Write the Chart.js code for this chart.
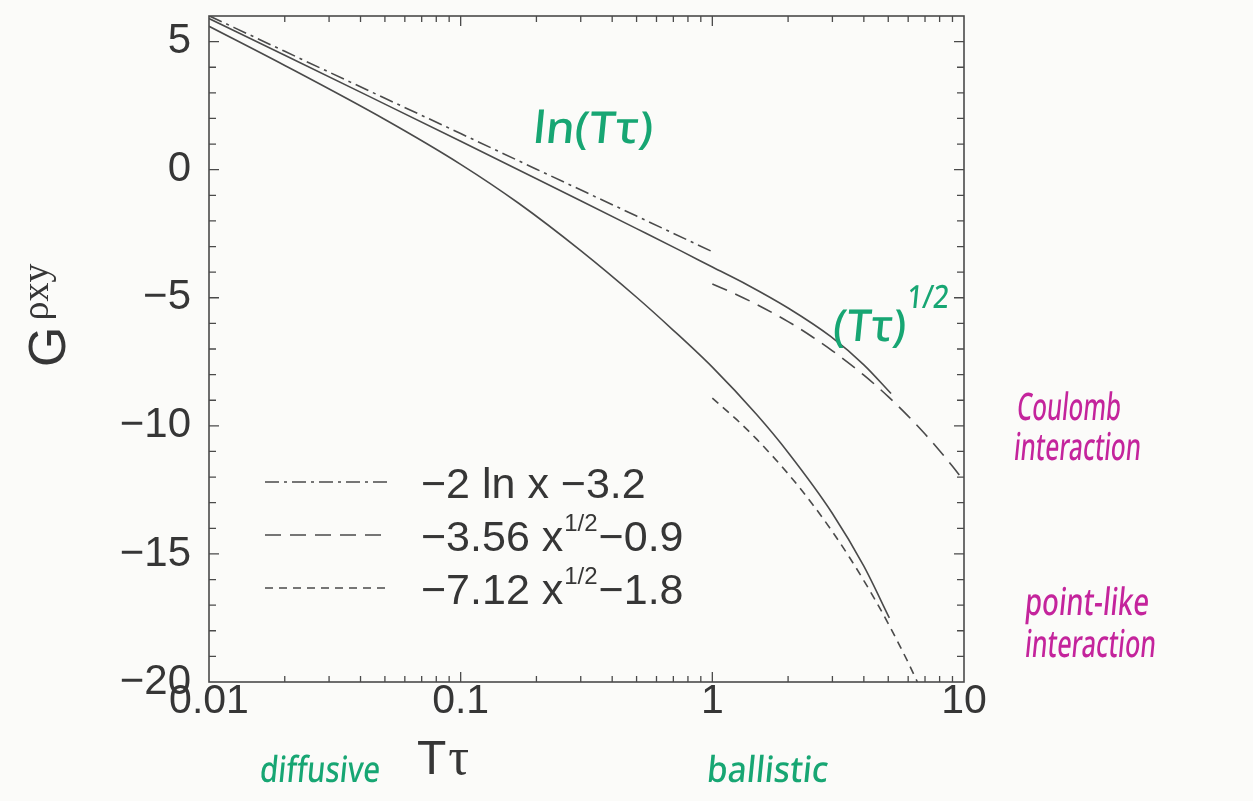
<!DOCTYPE html>
<html>
<head>
<meta charset="utf-8">
<script src="https://cdn.jsdelivr.net/npm/chart.js@4.4.1/dist/chart.umd.min.js"></script>
<style>
  html, body { margin: 0; padding: 0; background: #fbfbf9; }
  #wrap { width: 1253px; height: 801px; }
</style>
</head>
<body>
<div id="wrap"><canvas id="c" width="1253" height="801"></canvas></div>
<script>
// Axis ticks
const xTickValues = [0.01, 0.1, 1, 10];
const yTickValues = [-20, -15, -10, -5, 0, 5];

// Full crossover curve, Coulomb interaction
const coulombX = [0.01, 0.02, 0.05, 0.1, 0.2, 0.3, 0.5, 0.75, 1.0, 1.38, 2.0, 2.96, 4.0, 5.13];
const coulombY = [5.9, 4.47, 2.56, 1.11, -0.35, -1.21, -2.3, -3.17, -3.8, -4.5, -5.4, -6.52, -7.62, -8.74];

// Full crossover curve, point-like interaction
const pointX = [0.01, 0.02, 0.05, 0.1, 0.17, 0.3, 0.5, 0.7, 1.0, 1.5, 2.0, 3.0, 4.0, 5.05];
const pointY = [5.6, 4.07, 1.96, 0.21, -1.31, -3.16, -4.98, -6.27, -7.71, -9.56, -11.04, -13.42, -15.48, -17.5];

// Diffusive asymptote  -2 ln x - 3.2
const lnX = [0.01, 0.02, 0.05, 0.1, 0.2, 0.5, 1.0];
const lnY = [6.01, 4.62, 2.79, 1.41, 0.02, -1.81, -3.2];

// Ballistic asymptote, Coulomb  -3.56 x^1/2 - 0.9
const sqrtCX = [1.0, 1.25, 1.5, 2.0, 2.5, 3.0, 4.0, 5.0, 6.0, 7.0, 8.0, 9.0, 10.0];
const sqrtCY = [-4.46, -4.88, -5.26, -5.93, -6.53, -7.07, -8.02, -8.86, -9.62, -10.32, -10.97, -11.58, -12.16];

// Ballistic asymptote, point-like  -7.12 x^1/2 - 1.8
const sqrtPX = [1.0, 1.25, 1.5, 2.0, 2.5, 3.0, 3.5, 4.0, 4.5, 5.0, 5.5, 6.0, 6.53];
const sqrtPY = [-8.92, -9.76, -10.52, -11.87, -13.06, -14.13, -15.12, -16.04, -16.9, -17.72, -18.5, -19.24, -20.0];

const pairs = (xs, ys) => xs.map((x, i) => ({ x: x, y: ys[i] }));

const INK = '#4a4a4a';
const TEXT = '#363636';
const GREEN = '#17a673';
const MAGENTA = '#c4249c';
const SANS = '"Liberation Sans", Arial, sans-serif';
const SERIF = '"Liberation Serif", "Times New Roman", serif';

const legendEntries = [
  { dash: [14, 5, 3, 5], base: '\u22122 ln x \u22123.2', sup: '', tail: '' },
  { dash: [16, 9],       base: '\u22123.56 x', sup: '1/2', tail: '\u22120.9' },
  { dash: [8, 6],        base: '\u22127.12 x', sup: '1/2', tail: '\u22121.8' }
];

const paper = {
  id: 'paper',
  beforeDraw(chart) {
    const c = chart.ctx;
    c.save();
    c.fillStyle = '#fbfbf9';
    c.fillRect(0, 0, chart.width, chart.height);
    c.restore();
  }
};

// Frame with inward ticks on all four sides
const frame = {
  id: 'frame',
  afterDatasetsDraw(chart) {
    const c = chart.ctx;
    const a = chart.chartArea;
    const xs = chart.scales.x, ys = chart.scales.y;
    c.save();
    c.strokeStyle = INK;
    c.lineWidth = 1.6;
    c.strokeRect(a.left, a.top, a.right - a.left, a.bottom - a.top);
    c.lineWidth = 1.3;
    c.beginPath();
    for (let d = -2; d < 1; d++) {
      for (let m = 1; m <= 10; m++) {
        const v = m * Math.pow(10, d);
        if (v <= 0.01 || v >= 10) continue;
        const px = xs.getPixelForValue(v);
        const len = (m === 1 || m === 10) ? 10 : 6;
        c.moveTo(px, a.bottom); c.lineTo(px, a.bottom - len);
        c.moveTo(px, a.top); c.lineTo(px, a.top + len);
      }
    }
    for (let v = -19; v <= 5; v++) {
      const py = ys.getPixelForValue(v);
      const len = (v % 5 === 0) ? 10 : 7;
      c.moveTo(a.left, py); c.lineTo(a.left + len, py);
      c.moveTo(a.right, py); c.lineTo(a.right - len, py);
    }
    c.stroke();
    c.restore();
  }
};

// Legend drawn inside the plot
const innerLegend = {
  id: 'innerLegend',
  afterDatasetsDraw(chart) {
    const c = chart.ctx;
    const rows = [482, 535, 588];
    c.save();
    legendEntries.forEach((e, i) => {
      const y = rows[i];
      c.strokeStyle = INK;
      c.lineWidth = 1.6;
      c.setLineDash(e.dash);
      c.beginPath();
      c.moveTo(265, y); c.lineTo(390, y);
      c.stroke();
      c.setLineDash([]);
      c.fillStyle = TEXT;
      c.textBaseline = 'alphabetic';
      c.font = '43px ' + SANS;
      let x = 421;
      const base = y + 16;
      c.fillText(e.base, x, base);
      x += c.measureText(e.base).width;
      if (e.sup) {
        c.font = '24px ' + SANS;
        c.fillText(e.sup, x + 1, base - 20);
        x += c.measureText(e.sup).width + 2;
        c.font = '43px ' + SANS;
        c.fillText(e.tail, x, base);
      }
    });
    c.restore();
  }
};

// Axis titles and hand annotations
const notes = {
  id: 'notes',
  afterDraw(chart) {
    const c = chart.ctx;
    c.save();
    c.textBaseline = 'alphabetic';
    // y title  G^{rho xy}
    c.save();
    c.translate(65, 367);
    c.rotate(-Math.PI / 2);
    c.fillStyle = TEXT;
    c.font = '52px ' + SANS;
    c.fillText('G', 0, 0);
    const gw = c.measureText('G').width;
    c.font = '38px ' + SERIF;
    c.fillText('\u03C1xy', gw + 6, -17);
    c.restore();
    // x title
    c.fillStyle = TEXT;
    c.font = '48px ' + SANS;
    c.fillText('T', 417, 774);
    const tw = c.measureText('T').width;
    c.font = '52px ' + SERIF;
    c.fillText('\u03C4', 417 + tw + 2, 774);

    // handwritten notes, each squeezed to its written width
    const hand = (text, x, base, width, size, color) => {
      c.save();
      c.fillStyle = color;
      c.font = '500 ' + size + 'px "Noto Sans", "DejaVu Sans", sans-serif';
      const w = c.measureText(text).width;
      c.translate(x, base);
      c.transform(width / w, 0, -0.1, 1, 0, 0);
      c.fillText(text, 0, 0);
      c.restore();
    };
    hand('ln(T\u03C4)', 532, 143, 120, 44, GREEN);
    hand('(T\u03C4)', 832, 341, 73, 44, GREEN);
    hand('1/2', 906, 308, 42, 32, GREEN);
    hand('diffusive', 259, 782, 120, 36, GREEN);
    hand('ballistic', 706, 782, 121, 36, GREEN);

    hand('Coulomb', 1016, 420, 104, 38, MAGENTA);
    hand('interaction', 1013, 460, 127, 38, MAGENTA);
    hand('point-like', 1024, 615, 124, 38, MAGENTA);
    hand('interaction', 1024, 657, 131, 38, MAGENTA);
    c.restore();
  }
};

const lineDs = (label, data, dash) => ({
  label: label,
  data: data,
  borderColor: INK,
  borderWidth: 1.6,
  borderDash: dash,
  pointRadius: 0,
  fill: false,
  cubicInterpolationMode: 'monotone'
});

new Chart(document.getElementById('c'), {
  type: 'line',
  data: {
    datasets: [
      lineDs('Coulomb interaction', pairs(coulombX, coulombY), []),
      lineDs('point-like interaction', pairs(pointX, pointY), []),
      lineDs('\u22122 ln x \u22123.2', pairs(lnX, lnY), legendEntries[0].dash),
      lineDs('\u22123.56 x^1/2 \u22120.9', pairs(sqrtCX, sqrtCY), legendEntries[1].dash),
      lineDs('\u22127.12 x^1/2 \u22121.8', pairs(sqrtPX, sqrtPY), legendEntries[2].dash)
    ]
  },
  options: {
    responsive: false,
    animation: false,
    devicePixelRatio: 1,
    layout: { padding: { left: 0, top: 16, right: 289, bottom: 0 } },
    plugins: { legend: { display: false }, tooltip: { enabled: false } },
    scales: {
      x: {
        type: 'logarithmic',
        min: 0.01, max: 10,
        grid: { display: false, drawTicks: false },
        border: { display: false },
        afterBuildTicks: s => { s.ticks = xTickValues.map(v => ({ value: v })); },
        afterFit: s => { s.height = 119; s.paddingLeft = 0; s.paddingRight = 0; },
        ticks: {
          autoSkip: false, maxRotation: 0, padding: -5,
          color: TEXT,
          font: { family: SANS, size: 41 },
          callback: v => String(v)
        }
      },
      y: {
        type: 'linear',
        min: -20, max: 6,
        grid: { display: false, drawTicks: false },
        border: { display: false },
        afterBuildTicks: s => { s.ticks = yTickValues.map(v => ({ value: v })); },
        afterFit: s => { s.width = 209; s.paddingTop = 0; s.paddingBottom = 0; },
        ticks: {
          autoSkip: false, padding: 18,
          color: TEXT,
          font: { family: SANS, size: 42 },
          callback: v => (v < 0 ? '\u2212' + Math.abs(v) : String(v))
        }
      }
    }
  },
  plugins: [paper, frame, innerLegend, notes]
});
</script>
</body>
</html>
